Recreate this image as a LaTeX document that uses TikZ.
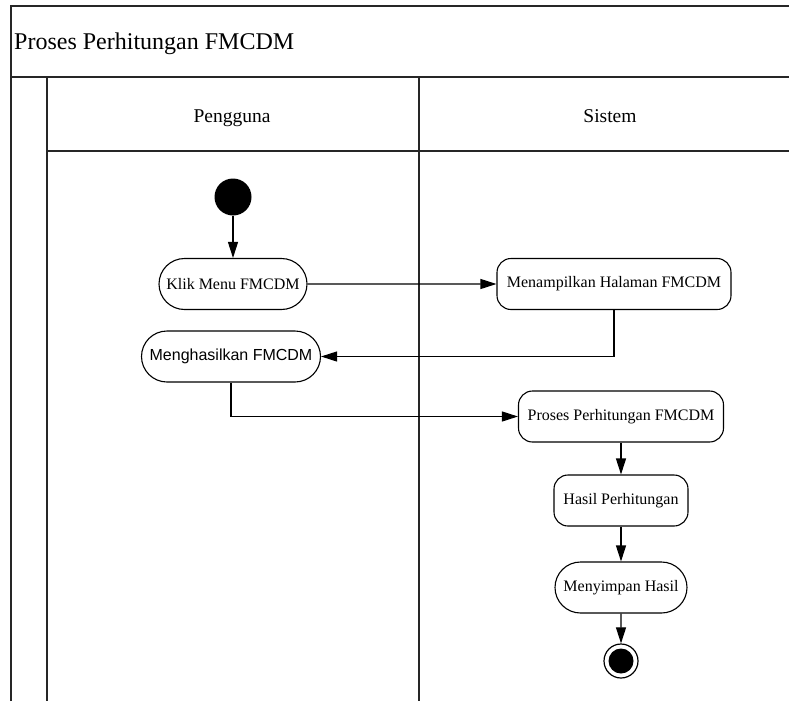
\documentclass[tikz,border=0pt]{standalone}
\usepackage{fontspec}
\setmainfont{Liberation Serif}
\newfontfamily\labelsans{Liberation Sans}
\usetikzlibrary{arrows.meta,shapes.misc}
\begin{document}
\begin{tikzpicture}[x=1pt,y=-1pt,
  frame/.style={line width=1.5pt, draw=black!85},
  nodefont/.style={font=\fontsize{16}{19}\selectfont},
  action/.style={draw, line width=1.1pt, rounded corners=14pt, minimum height=51pt,
    inner xsep=2pt, nodefont, fill=white},
  pill/.style={draw, line width=1.1pt, rounded rectangle, minimum height=51pt,
    inner xsep=2pt, nodefont, fill=white},
  flow/.style={line width=1.1pt, -{Triangle[length=16pt,width=10pt]}}
]
\useasboundingbox (0,0) rectangle (789,701);

% swimlane frame
\draw[frame] (11,701) -- (11,6) -- (789,6);
\draw[frame] (11,77) -- (789,77);
\draw[frame] (47,77) -- (47,701);
\draw[frame] (47,151) -- (789,151);
\draw[frame] (419,77) -- (419,701);

% titles
\node[anchor=base west, inner sep=0pt, font=\fontsize{24}{28}\selectfont] (title) at (14,50) {Proses Perhitungan FMCDM};
\node[anchor=base, inner sep=0pt, font=\fontsize{19.5}{23}\selectfont] (lane1) at (232,122) {Pengguna};
\node[anchor=base, inner sep=0pt, font=\fontsize{19.5}{23}\selectfont] (lane2) at (610,122) {Sistem};

% activity nodes
\node[circle, fill=black, minimum size=37pt, inner sep=0pt] (start) at (233,197) {};
\node[pill, minimum width=152pt] (klik) at (233,284) {Klik Menu FMCDM};
\node[action, minimum width=234pt] (tampil) at (614,284) {Menampilkan Halaman FMCDM};
\node[pill, minimum width=183pt, font=\labelsans\fontsize{16}{19}\selectfont] (hasilkan) at (231,356.5) {Menghasilkan FMCDM};
\node[action, minimum width=205pt] (proses) at (621,416.5) {Proses Perhitungan FMCDM};
\node[action, minimum width=134pt] (hasil) at (621,500.5) {Hasil Perhitungan};
\node[pill, minimum width=136pt] (simpan) at (621,587.5) {Menyimpan Hasil};
\node[circle, draw, line width=1.2pt, minimum size=34pt, inner sep=0pt,
  path picture={\fill (path picture bounding box.center) circle (12.5pt);}] (finish) at (621,661) {};

% control flow
\draw[flow] (start) -- (klik);
\draw[flow] (klik) -- (tampil);
\draw[flow] (tampil.south) |- (hasilkan.east);
\draw[flow] (hasilkan.south) |- (proses.west);
\draw[flow] (proses) -- (hasil);
\draw[flow] (hasil) -- (simpan);
\draw[flow] (simpan) -- (finish);
\end{tikzpicture}
\end{document}
